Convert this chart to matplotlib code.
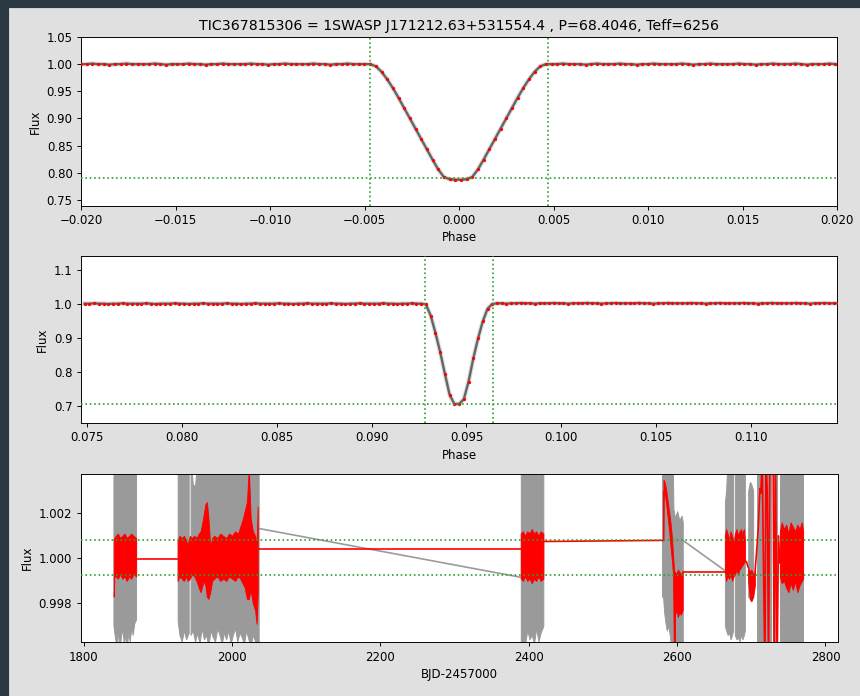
import numpy as np
import matplotlib
matplotlib.use("Agg")
import matplotlib.pyplot as plt
from matplotlib.patches import Rectangle
from matplotlib.ticker import FormatStrFormatter

TITLE = "TIC367815306 = 1SWASP J171212.63+531554.4 , P=68.4046, Teff=6256"

# ---------------- primary eclipse (binned phase curve) ----------------
phase1 = np.round(-0.0200 + 0.0003 * np.arange(134), 4)
flux1_left = [1.000, 1.000, 1.001, 1.000, 1.000, 0.999, 1.000, 1.000, 1.001, 1.000,
              1.000, 1.000, 1.000, 1.001, 1.000, 0.999, 1.000, 1.000, 1.000, 1.001,
              1.000, 1.000, 0.999, 1.000, 1.000, 1.001, 1.000, 1.000, 1.000, 1.000,
              1.001, 1.000, 1.000, 0.999, 1.000, 1.000, 1.001, 1.000, 1.000, 1.000,
              1.000, 1.001, 1.000, 1.000, 0.999, 1.000, 1.000, 1.001, 1.000, 1.000,
              1.000]
flux1_eclipse = [1.000, 0.996, 0.986, 0.972, 0.956, 0.938, 0.919, 0.900, 0.881, 0.862,
                 0.843, 0.824, 0.806, 0.792, 0.788, 0.787, 0.787, 0.788, 0.792, 0.806,
                 0.824, 0.843, 0.862, 0.881, 0.900, 0.919, 0.938, 0.956, 0.972, 0.986,
                 0.996, 1.000]
flux1_right = [1.000, 1.000, 1.001, 1.000, 1.000, 1.000, 0.999, 1.000, 1.001, 1.000,
               1.000, 1.000, 1.001, 1.000, 1.000, 0.999, 1.000, 1.000, 1.001, 1.000,
               1.000, 1.000, 1.000, 1.001, 1.000, 0.999, 1.000, 1.000, 1.001, 1.000,
               1.000, 1.000, 1.000, 1.001, 1.000, 1.000, 0.999, 1.000, 1.000, 1.001,
               1.000, 1.000, 1.000, 1.001, 1.000, 0.999, 1.000, 1.000, 1.000, 1.001,
               1.000]
flux1 = np.array(flux1_left + flux1_eclipse + flux1_right)
contacts1 = [-0.0047, 0.0047]
depth1 = 0.790

# ---------------- secondary eclipse (binned phase curve) ----------------
phase2 = 0.07486 + 0.00025 * np.arange(160)
flux2_left = [1.002, 1.002, 1.003, 1.002, 1.002, 1.001, 1.002, 1.002, 1.003, 1.002,
              1.002, 1.002, 1.002, 1.003, 1.002, 1.001, 1.002, 1.002, 1.002, 1.003,
              1.002, 1.002, 1.001, 1.002, 1.002, 1.003, 1.002, 1.002, 1.002, 1.002,
              1.003, 1.002, 1.002, 1.001, 1.002, 1.002, 1.003, 1.002, 1.002, 1.002,
              1.002, 1.003, 1.002, 1.002, 1.001, 1.002, 1.002, 1.003, 1.002, 1.002,
              1.002, 1.002, 1.003, 1.002, 1.002, 1.001, 1.002, 1.002, 1.003, 1.002,
              1.002, 1.002, 1.002, 1.003, 1.002, 1.002, 1.001, 1.002, 1.002, 1.003,
              1.002, 1.002]
flux2_eclipse = [1.000, 0.967, 0.917, 0.860, 0.796, 0.734, 0.707, 0.707, 0.721, 0.773,
                 0.841, 0.900, 0.950, 0.987, 1.001]
flux2_right = [1.003, 1.003, 1.002, 1.003, 1.003, 1.004, 1.003, 1.003, 1.002, 1.003,
               1.003, 1.003, 1.004, 1.003, 1.003, 1.002, 1.003, 1.003, 1.003, 1.004,
               1.003, 1.003, 1.002, 1.003, 1.003, 1.004, 1.003, 1.003, 1.003, 1.003,
               1.004, 1.003, 1.003, 1.002, 1.003, 1.003, 1.004, 1.003, 1.003, 1.003,
               1.003, 1.004, 1.003, 1.003, 1.002, 1.003, 1.003, 1.004, 1.003, 1.003,
               1.003, 1.003, 1.004, 1.003, 1.003, 1.002, 1.003, 1.003, 1.004, 1.003,
               1.003, 1.003, 1.003, 1.004, 1.003, 1.003, 1.002, 1.003, 1.003, 1.004,
               1.003, 1.003, 1.003]
flux2 = np.array(flux2_left + flux2_eclipse + flux2_right)
contacts2 = [0.0928, 0.0964]
depth2 = 0.708

# ---------------- light curve vs time ----------------
# raw photometry: per-season envelopes (time, lower, upper)
raw_segments = [
    ([1840.0, 1842, 1844, 1846, 1848, 1850, 1852, 1854, 1856, 1858, 1860, 1862, 1864, 1866, 1868, 1870.5],
     [0.9970, 0.9965, 0.9961, 0.9968, 0.9958, 0.9965, 0.9969, 0.9962, 0.9966, 0.9960, 0.9967, 0.9963, 0.9969, 0.9966, 0.9971, 0.9973],
     [1.0045, 1.0045, 1.0045, 1.0037, 1.0045, 1.0045, 1.0045, 1.0045, 1.0045, 1.0045, 1.0045, 1.0045, 1.0045, 1.0045, 1.0045, 1.0045]),
    ([1926.6, 1929, 1932, 1935, 1938, 1941.5],
     [0.9972, 0.9966, 0.9963, 0.9968, 0.9964, 0.9967],
     [1.0045, 1.0045, 1.0045, 1.0045, 1.0045, 1.0045]),
    ([1944, 1947, 1950, 1953, 1956, 1959, 1962, 1965, 1968, 1971, 1974, 1977, 1980, 1983, 1986, 1989,
      1992, 1995, 1998, 2001, 2004, 2007, 2010, 2013, 2016, 2019, 2022, 2025, 2028, 2031, 2034, 2035.8],
     [0.9966, 0.9968, 0.9963, 0.9967, 0.9962, 0.9969, 0.9964, 0.9966, 0.9961, 0.9968, 0.9965, 0.9963, 0.9969, 0.9966, 0.9962, 0.9967,
      0.9964, 0.9968, 0.9962, 0.9966, 0.9969, 0.9963, 0.9967, 0.9965, 0.9962, 0.9968, 0.9964, 0.9961, 0.9966, 0.9963, 0.9960, 0.9958],
     [1.0045, 1.0033, 1.0032, 1.0045, 1.0036, 1.0045, 1.0045, 1.0045, 1.0045, 1.0045, 1.0045, 1.0045, 1.0045, 1.0045, 1.0045, 1.0045,
      1.0045, 1.0045, 1.0045, 1.0045, 1.0045, 1.0045, 1.0045, 1.0045, 1.0045, 1.0045, 1.0045, 1.0045, 1.0045, 1.0045, 1.0045, 1.0045]),
    ([2389.2, 2392, 2395, 2398, 2401, 2404, 2407, 2410, 2413, 2416, 2419.6],
     [0.9955, 0.9958, 0.9962, 0.9968, 0.9964, 0.9966, 0.9962, 0.9969, 0.9963, 0.9967, 0.9970],
     [1.0045, 1.0045, 1.0045, 1.0045, 1.0045, 1.0045, 1.0038, 1.0045, 1.0036, 1.0045, 1.0045]),
    ([2579.5, 2581, 2582.5, 2584, 2586, 2588, 2590, 2592, 2594, 2595, 2597, 2600, 2603, 2606, 2607.6],
     [0.9983, 0.9983, 0.9976, 0.9972, 0.9968, 0.9970, 0.9966, 0.9960, 0.9955, 0.9955, 0.9955, 0.9955, 0.9955, 0.9955, 0.9955],
     [1.0045, 1.0045, 1.0045, 1.0045, 1.0045, 1.0045, 1.0045, 1.0045, 1.0045, 1.0022, 1.0018, 1.0021, 1.0017, 1.0019, 1.0016]),
    ([2664.4, 2666, 2668, 2670, 2672, 2674, 2675.5],
     [0.9970, 0.9968, 0.9966, 0.9967, 0.9964, 0.9966, 0.9968],
     [1.0025, 1.0030, 1.0045, 1.0045, 1.0045, 1.0045, 1.0045]),
    ([2677.8, 2680, 2682, 2684, 2686, 2688, 2690, 2691.3],
     [0.9966, 0.9964, 0.9965, 0.9963, 0.9966, 0.9964, 0.9966, 0.9968],
     [1.0045, 1.0045, 1.0045, 1.0045, 1.0045, 1.0045, 1.0045, 1.0045]),
    ([2695.8, 2698, 2700, 2702.5],
     [0.9983, 0.9982, 0.9981, 0.9983],
     [1.0030, 1.0034, 1.0033, 1.0030]),
    ([2707.1, 2710, 2713, 2716, 2719, 2722, 2725.9],
     [0.9955, 0.9955, 0.9955, 0.9955, 0.9955, 0.9955, 0.9955],
     [1.0045, 1.0045, 1.0045, 1.0045, 1.0045, 1.0045, 1.0045]),
    ([2729.4, 2732, 2734.8],
     [0.9955, 0.9955, 0.9955],
     [1.0045, 1.0045, 1.0045]),
    ([2738.5, 2742, 2746, 2750, 2754, 2758, 2762, 2766, 2769.8],
     [0.9955, 0.9955, 0.9955, 0.9955, 0.9955, 0.9955, 0.9955, 0.9955, 0.9955],
     [1.0045, 1.0045, 1.0045, 1.0045, 1.0045, 1.0045, 1.0045, 1.0045, 1.0045]),
]
# raw photometry across the seasonal gaps
raw_gaps = [
    ([2035.7, 2389.2], [1.00133, 0.99916]),
    ([2607.4, 2663.4], [1.00081, 0.99948]),
]

# smoothed photometry: dense stretches as envelopes (time, lower, upper)
smooth_segments = [
    ([1840.4, 1841.2, 1843, 1846, 1849, 1852, 1855, 1858, 1861, 1864, 1867, 1870.6],
     [0.9983, 0.9992, 0.9992, 0.9991, 0.9993, 0.9991, 0.9992, 0.9990, 0.9992, 0.9991, 0.9993, 0.9992],
     [1.0008, 1.0009, 1.0010, 1.0011, 1.0009, 1.0010, 1.0011, 1.0009, 1.0010, 1.0011, 1.0010, 1.0009]),
    ([1926.6, 1929, 1932, 1935, 1938, 1940.1, 1943, 1946, 1949, 1952, 1955, 1957.5, 1960, 1962, 1964,
      1966, 1968, 1970.5, 1973, 1976, 1980, 1984, 1988, 1992, 1996, 2000, 2004, 2008, 2011, 2014,
      2017, 2020, 2022.5, 2025, 2028, 2031, 2033, 2034.5],
     [0.9990, 0.9992, 0.9991, 0.9990, 0.9992, 0.9990, 0.9991, 0.9993, 0.9992, 0.9990, 0.9987, 0.9985, 0.9988, 0.9990, 0.9988,
      0.9983, 0.9982, 0.9985, 0.9990, 0.9991, 0.9992, 0.9990, 0.9991, 0.9990, 0.9992, 0.9991, 0.9990, 0.9992, 0.9991, 0.9989,
      0.9987, 0.9982, 0.9982, 0.9986, 0.9980, 0.9977, 0.9971, 0.9985],
     [1.0008, 1.0010, 1.0009, 1.0010, 1.0008, 1.0006, 1.0010, 1.0009, 1.0010, 1.0009, 1.0011, 1.0012, 1.0016, 1.0020, 1.0024,
      1.0025, 1.0018, 1.0005, 1.0009, 1.0010, 1.0009, 1.0011, 1.0010, 1.0009, 1.0011, 1.0010, 1.0012, 1.0011, 1.0014, 1.0017,
      1.0021, 1.0025, 1.0040, 1.0018, 1.0012, 1.0010, 1.0005, 1.0023]),
    ([2389.2, 2392, 2395, 2398, 2401, 2404, 2407, 2410, 2413, 2416, 2419.6],
     [0.9991, 0.9990, 0.9992, 0.9990, 0.9991, 0.9989, 0.9991, 0.9990, 0.9992, 0.9990, 0.9991],
     [1.0011, 1.0012, 1.0010, 1.0012, 1.0011, 1.0013, 1.0011, 1.0012, 1.0010, 1.0012, 1.0011]),
    ([2581.3, 2581.6, 2583, 2585, 2587, 2589, 2591, 2593, 2594.5, 2595.5, 2596.3, 2597.0],
     [1.0008, 1.0030, 1.0029, 1.0025, 1.0019, 1.0013, 1.0006, 0.9999, 0.9993, 0.9960, 0.9955, 0.9955],
     [1.0008, 1.0035, 1.0034, 1.0031, 1.0026, 1.0021, 1.0016, 1.0009, 1.0001, 0.9996, 0.9994, 0.9994]),
    ([2597.0, 2599, 2601, 2603, 2605, 2607.4],
     [0.9975, 0.9977, 0.9974, 0.9976, 0.9975, 0.9977],
     [0.9994, 0.9993, 0.9995, 0.9994, 0.9993, 0.9994]),
    ([2664.4, 2666, 2668, 2670, 2672, 2674, 2676, 2678, 2680, 2682, 2684, 2686, 2688, 2690, 2691.3],
     [0.9994, 0.9990, 0.9992, 0.9991, 0.9993, 0.9990, 0.9992, 0.9993, 0.9995, 0.9993, 0.9995, 0.9996, 0.9997, 0.9998, 0.9999],
     [1.0010, 1.0013, 1.0011, 1.0008, 1.0012, 1.0010, 1.0007, 1.0011, 1.0013, 1.0010, 1.0012, 1.0013, 1.0011, 1.0013, 1.0008]),
    ([2695.8, 2698, 2700, 2702.5, 2704.8],
     [0.9990, 0.9982, 0.9981, 0.9983, 0.9988],
     [0.9996, 0.9994, 0.9995, 0.9993, 0.9994]),
    ([2738.5, 2741, 2744, 2747, 2750, 2753, 2756, 2759, 2762, 2765, 2768, 2769.8],
     [0.9992, 0.9989, 0.9990, 0.9987, 0.9985, 0.9989, 0.9986, 0.9990, 0.9985, 0.9988, 0.9990, 0.9991],
     [1.0012, 1.0016, 1.0013, 1.0015, 1.0011, 1.0016, 1.0014, 1.0012, 1.0015, 1.0013, 1.0016, 1.0012]),
]
# smoothed photometry: sparse stretches as a polyline
smooth_lines = [
    ([1870.6, 1926.6], [0.99996, 0.99996]),
    ([2034.5, 2389.2], [1.00040, 1.00040]),
    ([2419.6, 2581.3], [1.00075, 1.00080]),
    ([2607.4, 2664.4], [0.99939, 0.99939]),
    ([2691.3, 2693.5, 2695.8], [0.99990, 0.99985, 0.99960]),
    ([2704.8, 2707.1, 2709.3, 2711.6, 2712.9, 2714.7, 2716.1, 2718.3, 2719.7, 2721.5, 2723.2,
      2725.0, 2727.0, 2729.4, 2730.8, 2732.6, 2734.8, 2736.6, 2738.5],
     [0.9993, 1.0003, 1.0013, 1.0031, 1.0029, 1.0045, 1.0005, 0.9950, 1.0045, 1.0030, 0.9950,
      1.0045, 1.0040, 1.0045, 0.9950, 1.0045, 0.9950, 1.0010, 0.9998]),
]
band_levels = [1.00080, 0.99927]

# ---------------- figure ----------------
DPI = 85
BG = "#e0e0e0"
GREEN = "#2ca02c"
fig = plt.figure(figsize=(860 / DPI, 696 / DPI), dpi=DPI, facecolor=BG)
fig.add_artist(Rectangle((0, 1 - 7 / 696), 1, 7 / 696, transform=fig.transFigure,
                         color="#2b3a42", zorder=-5))
fig.add_artist(Rectangle((0, 0), 8 / 860, 1, transform=fig.transFigure,
                         color="#2b3a42", zorder=-5))

ax1 = fig.add_axes([81 / 860, 1 - 205.5 / 696, 756 / 860, 168.5 / 696])
ax2 = fig.add_axes([81 / 860, 1 - 423.0 / 696, 756 / 860, 167.3 / 696])
ax3 = fig.add_axes([80.5 / 860, 1 - 642.3 / 696, 757 / 860, 168.3 / 696])


def phase_panel(ax, ph, fl, contacts, depth):
    ax.plot(ph, fl, "-", color="k", lw=4.0, alpha=0.12, zorder=2)
    ax.plot(ph, fl, "-", color="k", lw=2.0, alpha=0.55, zorder=2)
    ax.plot(ph, fl, ".", color="r", ms=5.5, mew=0, zorder=3)
    for c in contacts:
        ax.axvline(c, color=GREEN, ls=":", lw=1.4, zorder=4)
    ax.axhline(depth, color=GREEN, ls=":", lw=1.4, zorder=4)
    ax.set_xlabel("Phase")
    ax.set_ylabel("Flux")


phase_panel(ax1, phase1, flux1, contacts1, depth1)
ax1.set_xlim(-0.020, 0.020)
ax1.set_ylim(0.7395, 1.05)
ax1.set_xticks(np.arange(-0.020, 0.0201, 0.005))
ax1.set_yticks(np.arange(0.75, 1.051, 0.05))
ax1.set_title(TITLE, fontsize=12)

phase_panel(ax2, phase2, flux2, contacts2, depth2)
ax2.set_xlim(0.07467, 0.11454)
ax2.set_ylim(0.651, 1.143)
ax2.set_xticks(np.arange(0.075, 0.1101, 0.005))
ax2.set_yticks(np.arange(0.7, 1.101, 0.1))

GRAY = "#9a9a9a"
for t, lo, hi in raw_segments:
    ax3.fill_between(t, lo, hi, color=GRAY, lw=0.8, zorder=1)
for t, f in raw_gaps:
    ax3.plot(t, f, color=GRAY, lw=1.4, zorder=1)
for t, lo, hi in smooth_segments:
    ax3.fill_between(t, lo, hi, color="r", lw=0.8, zorder=2)
for t, f in smooth_lines:
    ax3.plot(t, f, color="r", lw=1.4, zorder=2)
for lev in band_levels:
    ax3.axhline(lev, color=GREEN, ls=":", lw=1.4, zorder=4)
ax3.set_xlim(1795.6, 2816.2)
ax3.set_ylim(0.99627, 1.00375)
ax3.set_xticks(np.arange(1800, 2801, 200))
ax3.set_yticks([0.998, 1.000, 1.002])
ax3.yaxis.set_major_formatter(FormatStrFormatter("%.3f"))
ax3.set_xlabel("BJD-2457000")
ax3.set_ylabel("Flux")

fig.savefig("out.png", dpi=DPI, facecolor=BG)
